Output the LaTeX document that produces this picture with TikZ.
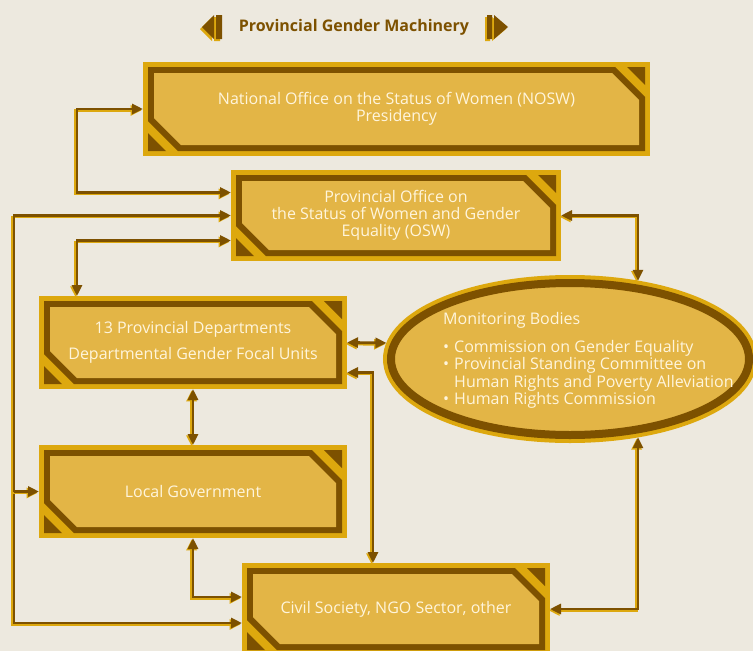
\documentclass[tikz,border=0pt]{standalone}
\usepackage{fontspec}
\setmainfont{Open Sans}
\usepackage{tikz}
\usetikzlibrary{arrows.meta,shapes.geometric,positioning,calc}

\definecolor{mbg}{HTML}{EDE9DF}
\definecolor{mgold}{HTML}{DDA80E}
\definecolor{mdark}{HTML}{7D5100}
\definecolor{mfill}{HTML}{E3B546}
\definecolor{mtext}{HTML}{FFF5DC}

\begin{document}
\begin{tikzpicture}[
    x=1pt, y=-1pt,
    >={Triangle[length=11pt,width=10pt]},
    govbox/.style={rectangle, fill=mgold, inner sep=0pt, outer sep=0pt,
        text=mtext, align=center, font=\fontsize{16}{17}\selectfont,
        path picture={
            \fill[mdark] let \p1=(path picture bounding box.south west),
                \p2=(path picture bounding box.north east) in
                (\x1+5pt,\y2-5pt) -- (\x2-35pt,\y2-5pt) -- (\x2-5pt,\y2-35pt)
                -- (\x2-5pt,\y1+5pt) -- (\x1+35pt,\y1+5pt) -- (\x1+5pt,\y1+35pt) -- cycle
                (\x2-23pt,\y2-5pt) -- (\x2-5pt,\y2-5pt) -- (\x2-5pt,\y2-23pt) -- cycle
                (\x1+23pt,\y1+5pt) -- (\x1+5pt,\y1+5pt) -- (\x1+5pt,\y1+23pt) -- cycle;
            \fill[mfill] let \p1=(path picture bounding box.south west),
                \p2=(path picture bounding box.north east) in
                (\x1+11pt,\y2-11pt) -- (\x2-38pt,\y2-11pt) -- (\x2-11pt,\y2-38pt)
                -- (\x2-11pt,\y1+11pt) -- (\x1+38pt,\y1+11pt) -- (\x1+11pt,\y1+38pt) -- cycle;
        }},
    conn/.style={draw=mdark, line width=2.8pt,
        preaction={draw=mgold, line width=2.8pt, transform canvas={shift={(-1.4pt,-1.4pt)}}}}
]
    \useasboundingbox (0,0) rectangle (753,651);
    \fill[mbg] (0,0) rectangle (753,651);

    % title
    \node[text=mdark, font=\fontsize{16}{18}\selectfont\bfseries] (title) at (354,27) {Provincial Gender Machinery};
    \fill[mgold] (200,29) -- (212,17) -- (212,41) -- cycle (214,17) rectangle (220,41);
    \fill[mdark] (202,27) -- (214,15) -- (214,39) -- cycle (216,15) rectangle (222,39);
    \fill[mgold] (485,17) rectangle (490,41) (492,17) -- (492,41) -- (506,29) -- cycle;
    \fill[mdark] (487,15) rectangle (492,39) (494,15) -- (494,39) -- (508,27) -- cycle;

    % boxes
    \node[govbox, minimum width=507pt, minimum height=94pt] (nosw) at (396.5,109)
        {National Office on the Status of Women (NOSW)\\Presidency};
    \node[govbox, minimum width=330pt, minimum height=91pt] (osw) at (396,215.5)
        {Provincial Office on\\the Status of Women and Gender\\Equality (OSW)};
    \node[govbox, minimum width=308pt, minimum height=93pt] (dept) at (193,342.5)
        {13 Provincial Departments\\[9pt]Departmental Gender Focal Units};
    \node[govbox, minimum width=308pt, minimum height=93pt] (lg) at (193,491.5)
        {Local Government};
    \node[govbox, minimum width=308pt, minimum height=92pt] (civ) at (396,609)
        {Civil Society, NGO Sector, other};

    % monitoring bodies
    \node[ellipse, minimum width=358pt, minimum height=152pt, inner sep=0pt, outer sep=8pt,
        fill=mfill, draw=mdark, line width=8pt, preaction={draw=mgold, line width=16pt}] (mon) at (570,359) {};
    \node[anchor=north west, inner sep=0pt, text=mtext, font=\fontsize{16}{17}\selectfont] (montext) at (443,312)
        {\begin{tabular}{@{}l@{\hspace{5pt}}l@{}}
            \multicolumn{2}{@{}l}{Monitoring Bodies}\\[11pt]
            \textbullet & Commission on Gender Equality\\
            \textbullet & Provincial Standing Committee on\\
                        & Human Rights and Poverty Alleviation\\
            \textbullet & Human Rights Commission
        \end{tabular}};

    % connectors
    \coordinate (rail) at (14,0);
    \draw[conn,<->] (nosw.west) -- ++(-66,0) |- ([yshift=23pt]osw.west);
    \draw[conn,<->] (osw.west) -- (rail |- osw.west) |- ([yshift=-14pt]civ.west);
    \draw[conn,->] (rail |- lg.west) -- (lg.west);
    \draw[conn,<->] ([yshift=-25pt]osw.west) -| ([xshift=-116pt]dept.north);
    \draw[conn,<->] (osw.east) -| (mon.49);
    \draw[conn,<->] (dept.east) -- (mon.175);
    \draw[conn,<->] ([yshift=-30pt]dept.east) -| ([xshift=-23pt]civ.north);
    \draw[conn,<->] (dept.south) -- (lg.north);
    \draw[conn,<->] (lg.south) |- ([yshift=12pt]civ.west);
    \draw[conn,<->] (mon.-49) |- (civ.east);
\end{tikzpicture}
\end{document}
